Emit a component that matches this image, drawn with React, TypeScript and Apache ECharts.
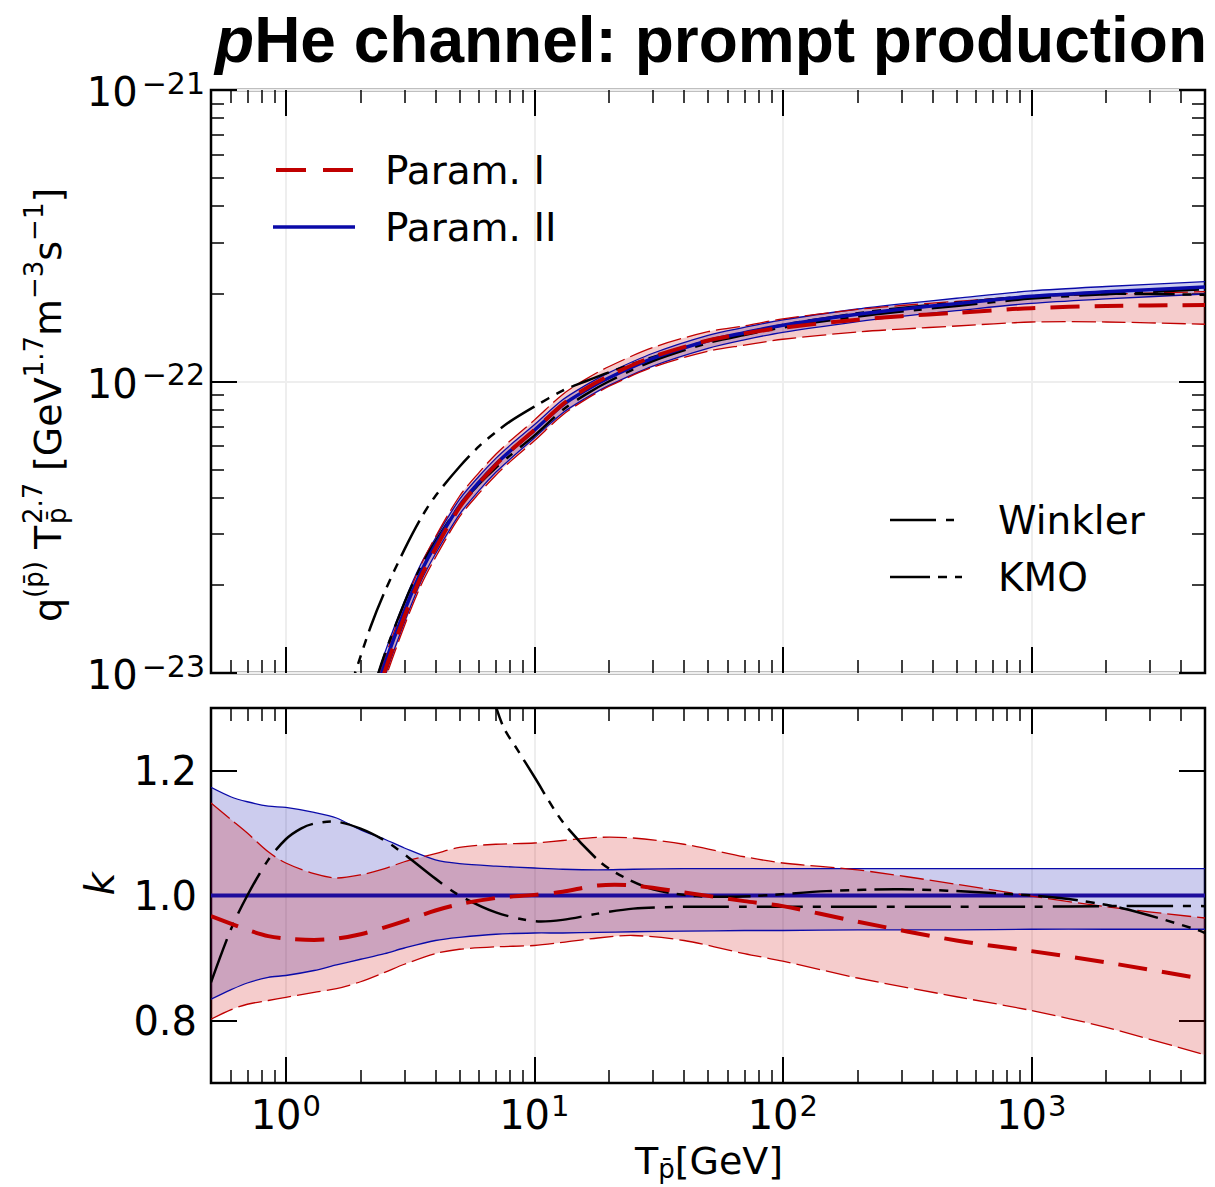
import React, { useEffect, useRef } from "react";
import * as echarts from "echarts";

// ---------------- data ----------------
const X_MIN = 0.5;
const X_MAX = 5000;
const X_MAJOR = [1, 10, 100, 1000];
const X_MINOR = [0.6, 0.7, 0.8, 0.9, 2, 3, 4, 5, 6, 7, 8, 9, 20, 30, 40, 50, 60, 70, 80, 90,
  200, 300, 400, 500, 600, 700, 800, 900, 2000, 3000, 4000];
// top panel values are in units of 1e-22 GeV^1.7 m^-3 s^-1
const Y_TOP_MIN = 0.1;
const Y_TOP_MAX = 10;
const Y_TOP_MAJOR = [0.1, 1, 10];
const Y_TOP_MINOR = [0.2, 0.3, 0.4, 0.5, 0.6, 0.7, 0.8, 0.9, 2, 3, 4, 5, 6, 7, 8, 9];
const K_MIN = 0.7;
const K_MAX = 1.3;
const K_MAJOR = [0.8, 1.0, 1.2];

const TOP_T = [2.2, 2.5, 3, 3.5, 4, 5, 6, 7, 8, 10, 13, 16, 20, 30, 50, 70, 100, 200, 300, 500, 1000, 2000, 5000];
const P2_TOP = [0.075, 0.107, 0.163, 0.222, 0.275, 0.375, 0.452, 0.52, 0.578, 0.68, 0.83, 0.93, 1.03, 1.2, 1.38, 1.47, 1.56, 1.7, 1.77, 1.85, 1.96, 2.03, 2.11];
const P2_TOP_HI = [0.083, 0.117, 0.176, 0.237, 0.29, 0.394, 0.474, 0.545, 0.605, 0.71, 0.865, 0.968, 1.073, 1.25, 1.44, 1.533, 1.627, 1.773, 1.846, 1.93, 2.045, 2.118, 2.2];
const P2_TOP_LO = [0.068, 0.097, 0.149, 0.206, 0.256, 0.35, 0.423, 0.488, 0.542, 0.64, 0.78, 0.874, 0.97, 1.13, 1.3, 1.39, 1.475, 1.606, 1.674, 1.75, 1.854, 1.92, 1.996];
const P1_TOP = [0.07, 0.101, 0.156, 0.214, 0.267, 0.37, 0.449, 0.518, 0.578, 0.681, 0.835, 0.943, 1.047, 1.215, 1.383, 1.46, 1.53, 1.63, 1.675, 1.72, 1.785, 1.815, 1.83];
const P1_TOP_HI = [0.078, 0.112, 0.172, 0.235, 0.293, 0.404, 0.488, 0.563, 0.626, 0.737, 0.903, 1.015, 1.126, 1.308, 1.482, 1.552, 1.64, 1.768, 1.823, 1.883, 1.958, 1.993, 2.034];
const P1_TOP_LO = [0.065, 0.094, 0.145, 0.2, 0.249, 0.343, 0.414, 0.477, 0.531, 0.626, 0.768, 0.865, 0.963, 1.12, 1.27, 1.332, 1.396, 1.479, 1.513, 1.55, 1.6, 1.6, 1.572];
const WINKLER_TOP = [0.083, 0.116, 0.174, 0.232, 0.282, 0.375, 0.445, 0.506, 0.558, 0.652, 0.798, 0.9, 1.002, 1.176, 1.355, 1.444, 1.532, 1.669, 1.738, 1.817, 1.925, 1.993, 2.072];
const KMO_TOP_T = [1.7, 1.9, 2.2, 2.5, 3, 3.5, 4, 5, 6, 7, 8, 10, 13, 16, 20, 30, 50, 70, 100, 200, 300, 500, 1000, 2000, 5000];
const KMO_TOP = [0.075, 0.1, 0.145, 0.19, 0.265, 0.34, 0.405, 0.51, 0.6, 0.67, 0.73, 0.82, 0.93, 1.0, 1.076, 1.212, 1.379, 1.468, 1.563, 1.714, 1.788, 1.863, 1.96, 1.998, 1.983];

const BOT_T = [0.5, 0.6, 0.7, 0.85, 1, 1.3, 1.6, 2, 2.5, 3, 4, 5, 7, 10, 13, 18, 25, 40, 70, 100, 200, 500, 1000, 2000, 5000];
const P2_K_T = [0.5, 5000];
const P2_K = [1.0, 1.0];
const P2_K_HI = [1.173, 1.158, 1.15, 1.143, 1.141, 1.133, 1.124, 1.105, 1.09, 1.076, 1.057, 1.051, 1.047, 1.044, 1.042, 1.041, 1.042, 1.043, 1.043, 1.043, 1.043, 1.043, 1.043, 1.043, 1.043];
const P2_K_LO = [0.834, 0.849, 0.86, 0.869, 0.872, 0.88, 0.889, 0.898, 0.907, 0.916, 0.928, 0.933, 0.938, 0.94, 0.94, 0.941, 0.942, 0.943, 0.944, 0.944, 0.945, 0.945, 0.946, 0.946, 0.946];
const P1_K = [0.967, 0.955, 0.945, 0.935, 0.931, 0.929, 0.931, 0.938, 0.949, 0.959, 0.976, 0.986, 0.996, 1.001, 1.006, 1.016, 1.016, 1.005, 0.991, 0.983, 0.958, 0.928, 0.911, 0.893, 0.866];
const P1_K_HI = [1.148, 1.122, 1.1, 1.07, 1.052, 1.035, 1.028, 1.033, 1.043, 1.054, 1.067, 1.077, 1.082, 1.084, 1.088, 1.093, 1.092, 1.082, 1.062, 1.052, 1.041, 1.018, 0.999, 0.982, 0.964];
const P1_K_LO = [0.802, 0.817, 0.826, 0.832, 0.837, 0.845, 0.851, 0.862, 0.877, 0.89, 0.907, 0.914, 0.918, 0.92, 0.925, 0.932, 0.936, 0.928, 0.907, 0.895, 0.868, 0.838, 0.816, 0.789, 0.745];
const WINKLER_K_T = [0.5, 0.6, 0.7, 0.85, 1, 1.15, 1.3, 1.6, 2, 2.5, 3, 4, 5, 7, 10, 13, 18, 25, 40, 70, 100, 200, 500, 1000, 2000, 5000];
const WINKLER_K = [0.861, 0.945, 1.0, 1.057, 1.09, 1.107, 1.115, 1.118, 1.107, 1.088, 1.066, 1.027, 1.0, 0.973, 0.959, 0.961, 0.971, 0.979, 0.982, 0.982, 0.982, 0.982, 0.982, 0.982, 0.983, 0.983];
const KMO_K_T = [6.6, 7.5, 8.5, 10, 13, 18, 22, 30, 45, 75, 150, 300, 700, 1300, 2300, 4500, 5000];
const KMO_K = [1.335, 1.27, 1.235, 1.19, 1.118, 1.057, 1.033, 1.01, 0.999, 0.999, 1.007, 1.01, 1.004, 0.996, 0.98, 0.947, 0.94];

// ---------------- styles ----------------
const FONT = "'DejaVu Sans', sans-serif";
const RED = "#c00000";
const BLUE = "#0a0aa8";
const BLUE_RATIO = "#1e0c9c";
const RED_FILL = "rgba(204,0,0,0.2)";
const BLUE_FILL = "rgba(0,0,170,0.2)";
const SMOOTH = 0.3;
const WINKLER_DASH = [46, 10, 8, 10];
const KMO_DASH = [40, 8, 9, 8, 9, 8];
const RED_EDGE_DASH = [24, 6];
const RED_MAIN_DASH = [29, 15];

function fillSeries(xs: number[], lo: number[], hi: number[], fill: string, ai: number, z: number) {
  const mid = Math.floor(xs.length / 2);
  return {
    type: "custom",
    xAxisIndex: ai,
    yAxisIndex: ai,
    clip: true,
    silent: true,
    z,
    data: [[xs[mid], hi[mid]]],
    renderItem: (_p: any, api: any) => {
      const n = xs.length;
      const pts: number[][] = [];
      pts.push(api.coord([xs[0], hi[0]]));
      for (let i = 0; i < n; i++) pts.push(api.coord([xs[i], hi[i]]));
      pts.push(api.coord([xs[n - 1], hi[n - 1]]));
      pts.push(api.coord([xs[n - 1], lo[n - 1]]));
      for (let i = n - 1; i >= 0; i--) pts.push(api.coord([xs[i], lo[i]]));
      pts.push(api.coord([xs[0], lo[0]]));
      return { type: "polygon", shape: { points: pts, smooth: SMOOTH }, style: { fill, stroke: null } };
    },
  };
}

function curveSeries(name: string, xs: number[], ys: number[], stroke: string, width: number, dash: number[] | null, ai: number, z: number) {
  const mid = Math.floor(xs.length / 2);
  return {
    name,
    type: "custom",
    xAxisIndex: ai,
    yAxisIndex: ai,
    clip: true,
    silent: true,
    z,
    data: [[xs[mid], ys[mid]]],
    renderItem: (_p: any, api: any) => ({
      type: "polyline",
      shape: { points: xs.map((x, i) => api.coord([x, ys[i]])), smooth: SMOOTH },
      style: { stroke, lineWidth: width, lineDash: dash || undefined, fill: null, lineCap: "butt" },
    }),
  };
}

const supRich = {
  b: { fontSize: 40, fontFamily: FONT, color: "#000", lineHeight: 44, verticalAlign: "bottom" },
  s: { fontSize: 30, fontFamily: FONT, color: "#000", lineHeight: 20, verticalAlign: "top", padding: [0, 0, 0, 4] },
};

const majorTick = (len: number) => ({ show: true, inside: true, length: len, lineStyle: { color: "#000", width: 2 } });
const minorTick = (len: number) => ({ show: true, inside: true, length: len, lineStyle: { color: "#000", width: 1.5 } });

function xAxesFor(gridIndex: number, labels: boolean) {
  const base: any = {
    type: "log", logBase: 10, min: X_MIN, max: X_MAX, gridIndex,
    axisLine: { show: false }, splitLine: { show: false }, axisLabel: { show: false },
  };
  return [
    {
      ...base, position: "bottom",
      axisTick: { ...majorTick(26), customValues: X_MAJOR },
      splitLine: { show: true, lineStyle: { color: "#eeeeee", width: 2 } },
      axisLabel: labels
        ? {
            show: true, customValues: X_MAJOR, margin: 8,
            formatter: (v: number) => `{b|10}{s|${Math.round(Math.log10(v))}}`,
            rich: {
              b: supRich.b,
              s: { ...supRich.s, fontSize: 29, padding: [0, 0, 0, 1] },
            },
          }
        : { show: false },
    },
    { ...base, position: "bottom", axisTick: { ...minorTick(13), customValues: X_MINOR } },
    { ...base, position: "top", axisTick: { ...majorTick(26), customValues: X_MAJOR } },
    { ...base, position: "top", axisTick: { ...minorTick(13), customValues: X_MINOR } },
  ];
}

function yAxesTop() {
  const base: any = {
    type: "log", logBase: 10, min: Y_TOP_MIN, max: Y_TOP_MAX, gridIndex: 0,
    axisLine: { show: false }, splitLine: { show: false }, axisLabel: { show: false },
  };
  return [
    {
      ...base, position: "left",
      axisTick: { ...majorTick(26), customValues: Y_TOP_MAJOR },
      splitLine: { show: true, lineStyle: { color: "#eeeeee", width: 2 } },
      axisLabel: {
        show: true, customValues: Y_TOP_MAJOR, margin: 6,
        formatter: (v: number) => `{b|10}{s|\u2212${Math.abs(Math.round(Math.log10(v)) - 22)}}`,
        rich: supRich,
      },
    },
    { ...base, position: "left", axisTick: { ...minorTick(13), customValues: Y_TOP_MINOR } },
    { ...base, position: "right", axisTick: { ...majorTick(26), customValues: Y_TOP_MAJOR } },
    { ...base, position: "right", axisTick: { ...minorTick(13), customValues: Y_TOP_MINOR } },
  ];
}

function yAxesBottom() {
  const base: any = {
    type: "value", min: K_MIN, max: K_MAX, gridIndex: 1,
    axisLine: { show: false }, splitLine: { show: false }, axisLabel: { show: false },
  };
  return [
    {
      ...base, position: "left",
      axisTick: { ...majorTick(26), customValues: K_MAJOR },
      axisLabel: {
        show: true, customValues: K_MAJOR, margin: 14,
        formatter: (v: number) => v.toFixed(1),
        fontSize: 40, fontFamily: FONT, color: "#000",
      },
    },
    { ...base, position: "right", axisTick: { ...majorTick(26), customValues: K_MAJOR } },
  ];
}

function buildOption() {
  const series: any[] = [
    // ----- top panel -----
    fillSeries(TOP_T, P2_TOP_LO, P2_TOP_HI, BLUE_FILL, 0, 2),
    fillSeries(TOP_T, P1_TOP_LO, P1_TOP_HI, RED_FILL, 0, 2),
    curveSeries("Param. II upper", TOP_T, P2_TOP_HI, BLUE, 1.3, null, 0, 3),
    curveSeries("Param. II lower", TOP_T, P2_TOP_LO, BLUE, 1.3, null, 0, 3),
    curveSeries("Param. I upper", TOP_T, P1_TOP_HI, RED, 1.3, RED_EDGE_DASH, 0, 3),
    curveSeries("Param. I lower", TOP_T, P1_TOP_LO, RED, 1.3, RED_EDGE_DASH, 0, 3),
    curveSeries("Winkler", TOP_T, WINKLER_TOP, "#000", 2.5, WINKLER_DASH, 0, 4),
    curveSeries("KMO", KMO_TOP_T, KMO_TOP, "#000", 2.5, KMO_DASH, 0, 4),
    curveSeries("Param. II", TOP_T, P2_TOP, BLUE, 3.5, null, 0, 5),
    curveSeries("Param. I", TOP_T, P1_TOP, RED, 4, RED_MAIN_DASH, 0, 6),
    // ----- bottom panel -----
    fillSeries(BOT_T, P2_K_LO, P2_K_HI, BLUE_FILL, 4, 2),
    fillSeries(BOT_T, P1_K_LO, P1_K_HI, RED_FILL, 4, 2),
    curveSeries("Param. II ratio", P2_K_T, P2_K, BLUE_RATIO, 4, null, 4, 3),
    curveSeries("Param. II upper ratio", BOT_T, P2_K_HI, BLUE, 1.3, null, 4, 3),
    curveSeries("Param. II lower ratio", BOT_T, P2_K_LO, BLUE, 1.3, null, 4, 3),
    curveSeries("Param. I upper ratio", BOT_T, P1_K_HI, RED, 1.3, RED_EDGE_DASH, 4, 3),
    curveSeries("Param. I lower ratio", BOT_T, P1_K_LO, RED, 1.3, RED_EDGE_DASH, 4, 3),
    curveSeries("Winkler ratio", WINKLER_K_T, WINKLER_K, "#000", 2.5, WINKLER_DASH, 4, 4),
    curveSeries("KMO ratio", KMO_K_T, KMO_K, "#000", 2.5, KMO_DASH, 4, 4),
    curveSeries("Param. I ratio", BOT_T, P1_K, RED, 4, RED_MAIN_DASH, 4, 6),
  ];

  const txt = (x: number, y: number, text: string, extra: any = {}) => ({
    type: "text", x, y, z: 100,
    style: { text, fontFamily: FONT, fontSize: 39, fill: "#000", align: "left", verticalAlign: "middle", ...extra },
  });

  const mainRich = {
    m: { fontSize: 38, fontFamily: FONT, color: "#000", lineHeight: 46, verticalAlign: "bottom" },
    s: { fontSize: 26, fontFamily: FONT, color: "#000", lineHeight: 24, verticalAlign: "top" },
  };

  const graphic: any[] = [
    // title
    {
      type: "text", right: 8, top: 8, z: 100,
      style: {
        text: "{i|p}{b|He channel: prompt production}",
        fill: "#000",
        rich: {
          i: { fontFamily: "'Liberation Sans', Arial, sans-serif", fontWeight: "bold", fontStyle: "italic", fontSize: 64, color: "#000" },
          b: { fontFamily: "'Liberation Sans', Arial, sans-serif", fontWeight: "bold", fontSize: 64, color: "#000" },
        },
      },
    },
    // legend 1
    { type: "line", z: 100, shape: { x1: 276, y1: 170, x2: 354, y2: 170 }, style: { stroke: RED, lineWidth: 4, lineDash: [30, 17] } },
    txt(385, 170, "Param. I"),
    { type: "line", z: 100, shape: { x1: 273, y1: 227, x2: 355, y2: 227 }, style: { stroke: BLUE, lineWidth: 3.5 } },
    txt(385, 227, "Param. II"),
    // legend 2
    { type: "line", z: 100, shape: { x1: 890, y1: 520, x2: 962, y2: 520 }, style: { stroke: "#000", lineWidth: 2.5, lineDash: WINKLER_DASH } },
    txt(998, 520, "Winkler"),
    { type: "line", z: 100, shape: { x1: 890, y1: 577, x2: 962, y2: 577 }, style: { stroke: "#000", lineWidth: 2.5, lineDash: KMO_DASH } },
    txt(998, 577, "KMO"),
    // y-axis title (top panel), rotated
    {
      type: "group", x: 44, y: 622, rotation: Math.PI / 2, z: 100,
      children: [
        { type: "text", x: 0, y: 0, style: { text: "{m|q}{s|(p\u0304)}{m| T}", rich: mainRich, align: "left", verticalAlign: "middle" } },
        { type: "text", x: 98, y: -11, style: { text: "2.7", fontFamily: FONT, fontSize: 26, fill: "#000", align: "left", verticalAlign: "middle" } },
        { type: "text", x: 98, y: 13, style: { text: "p\u0304", fontFamily: FONT, fontSize: 26, fill: "#000", align: "left", verticalAlign: "middle" } },
        { type: "text", x: 151, y: 0, style: { text: "{m|[GeV}{s|1.7}{m|m}{s|\u22123}{m|s}{s|\u22121}{m|]}", rich: mainRich, align: "left", verticalAlign: "middle" } },
      ],
    },
    // k label
    {
      type: "text", x: 100, y: 884, rotation: Math.PI / 2, z: 100,
      style: { text: "k", fontFamily: FONT, fontStyle: "italic", fontSize: 40, fill: "#000", align: "center", verticalAlign: "middle" },
    },
    // x-axis title
    {
      type: "text", x: 709, y: 1162, z: 100,
      style: {
        text: "{m|T}{s|p\u0304}{m|[GeV]}",
        align: "center", verticalAlign: "middle",
        rich: {
          m: { fontSize: 38, fontFamily: FONT, color: "#000", lineHeight: 40, verticalAlign: "top" },
          s: { fontSize: 26, fontFamily: FONT, color: "#000", lineHeight: 18, verticalAlign: "bottom" },
        },
      },
    },
  ];

  return {
    animation: false,
    backgroundColor: "#fff",
    textStyle: { fontFamily: FONT },
    grid: [
      { left: 211, top: 90, width: 994, height: 583, show: true, borderColor: "#000", borderWidth: 2.5, backgroundColor: "transparent", containLabel: false },
      { left: 211, top: 708, width: 994, height: 375, show: true, borderColor: "#000", borderWidth: 2.5, backgroundColor: "transparent", containLabel: false },
    ],
    xAxis: [...xAxesFor(0, false), ...xAxesFor(1, true)],
    yAxis: [...yAxesTop(), ...yAxesBottom()],
    series,
    graphic,
  };
}

export default function App() {
  const ref = useRef<HTMLDivElement>(null);
  useEffect(() => {
    if (!ref.current) return;
    const chart = echarts.init(ref.current, null, { renderer: "svg" });
    chart.setOption(buildOption() as any);
    return () => chart.dispose();
  }, []);
  return (
    <div
      ref={ref}
      style={{ position: "absolute", left: 0, top: 0, width: 1215, height: 1187, background: "#fff" }}
    />
  );
}
